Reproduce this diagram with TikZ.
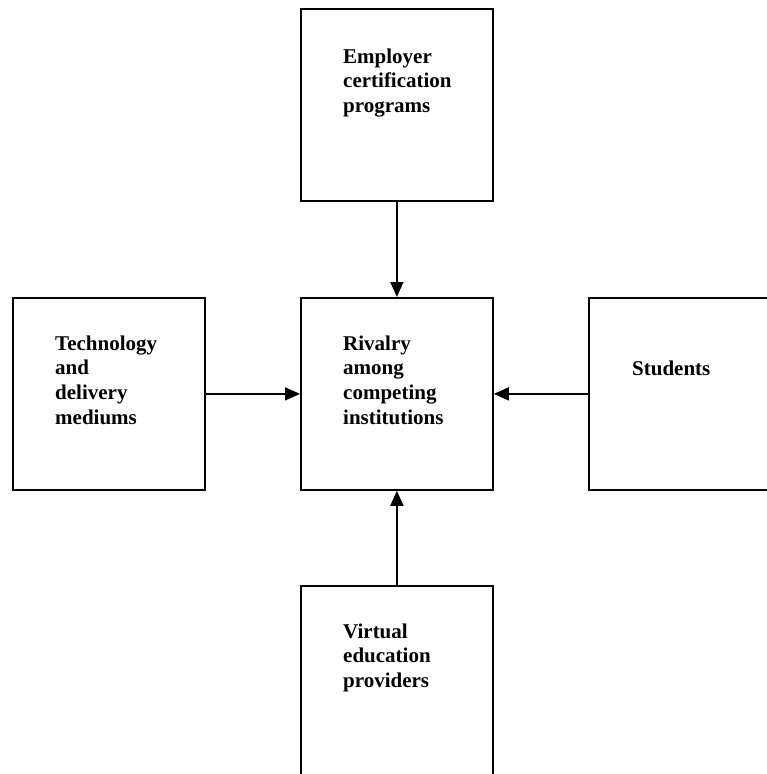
\documentclass[tikz,border=0pt]{standalone}
\usepackage{fontspec}
\setmainfont{Liberation Serif}
\usetikzlibrary{arrows.meta}
\begin{document}
\begin{tikzpicture}[x=1pt,y=-1pt,
  box/.style={draw=black, line width=1.8pt, minimum width=192pt, minimum height=192pt, inner sep=0pt, anchor=north west},
  lbl/.style={font=\fontsize{21}{24.7}\selectfont\bfseries, align=left, anchor=base west, inner sep=0pt},
  arr/.style={line width=1.5pt, -{Triangle[length=15pt,width=13pt]}}]
\useasboundingbox (0,0) rectangle (767,774);
\clip (0,0) rectangle (767,774);
\node[box] (top) at (300,8) {};
\node[box] (center) at (300,297) {};
\node[box] (left) at (12,297) {};
\node[box] (right) at (588,297) {};
\node[box] (bottom) at (300,585) {};
\node[lbl] (t1) at (343,112.4) {Employer\\certification\\programs};
\node[lbl] (t2) at (343,424.1) {Rivalry\\among\\competing\\institutions};
\node[lbl] (t3) at (55,424.1) {Technology\\and\\delivery\\mediums};
\node[lbl] (t4) at (632,375) {Students};
\node[lbl] (t5) at (343,687.4) {Virtual\\education\\providers};
\draw[arr] (top.south) -- (center.north);
\draw[arr] (left.east) -- (center.west);
\draw[arr] (right.west) -- (center.east);
\draw[arr] (bottom.north) -- (center.south);
\end{tikzpicture}
\end{document}
